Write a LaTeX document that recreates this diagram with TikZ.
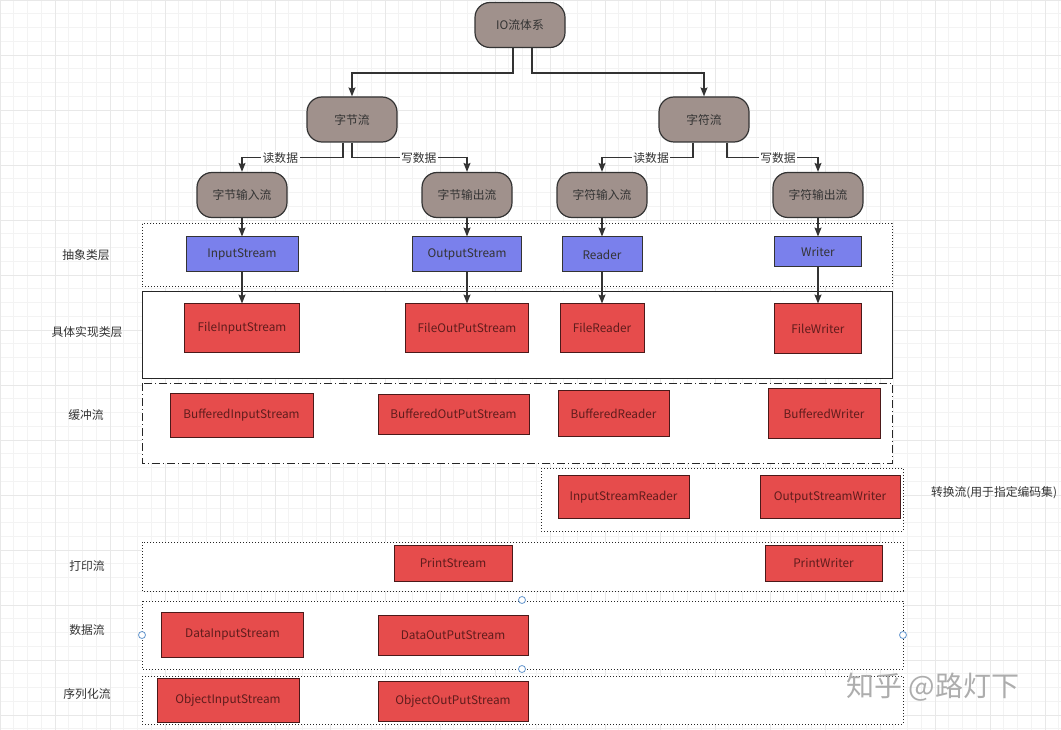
\documentclass[tikz,border=0pt]{standalone}
\usepackage{fontspec}
\setmainfont{Noto Sans CJK SC}
\usetikzlibrary{arrows.meta}

\definecolor{brownfill}{RGB}{160,145,140}
\definecolor{bluefill}{RGB}{122,128,236}
\definecolor{redfill}{RGB}{230,76,76}
\definecolor{redline}{RGB}{75,25,25}
\definecolor{redtext}{RGB}{95,28,28}
\definecolor{linegray}{RGB}{51,51,51}
\definecolor{gridminor}{RGB}{243,243,243}
\definecolor{gridmajor}{RGB}{232,232,232}
\definecolor{handleblue}{RGB}{100,150,205}

\begin{document}
\begin{tikzpicture}[x=1pt,y=-1pt,
  font=\fontsize{11.8}{14}\selectfont,
  flow/.style={draw=linegray,line width=1.2pt,fill=brownfill,rounded corners=15pt,
    minimum width=90pt,minimum height=45pt,inner sep=0pt,text=linegray},
  abs/.style 2 args={draw=linegray,line width=1pt,fill=bluefill,inner sep=0pt,
    minimum width=#1,minimum height=#2,text=linegray},
  impl/.style 2 args={draw=redline,line width=1pt,fill=redfill,inner sep=0pt,
    minimum width=#1,minimum height=#2,text=redtext},
  layer/.style={draw=black!85,fill=white,line width=1pt},
  arr/.style={draw=linegray,line width=1.2pt,-{Stealth[length=9pt,width=7pt,inset=1.5pt]}},
  lab/.style={fill=white,inner sep=1.5pt,text=linegray},
  side/.style={text=linegray},
  handle/.style={circle,draw=handleblue,fill=white,line width=0.8pt,minimum size=7pt,inner sep=0pt}]
\useasboundingbox (0,0) rectangle (1061,730);
% background grid
\draw[gridminor,line width=0.6pt] (0,0) grid[step=13.75pt] (1061,730);
\draw[gridmajor,line width=0.8pt] (0,0) grid[step=55pt] (1061,730);

% layer frames
\draw[layer,dotted] (142,224) rectangle (892,287);
\draw[layer] (142,292) rectangle (892,378);
\draw[layer,dash pattern=on 8pt off 3pt on 1pt off 3pt] (142,383) rectangle (892,463);
\draw[layer,dotted] (541,468) rectangle (903,531);
\draw[layer,dotted] (142,542) rectangle (903,591);
\draw[layer,dotted] (142,601) rectangle (903,669);
\draw[layer,dotted] (142,676) rectangle (903,724);

% tree
\node[flow] (io) at (520,25) {IO流体系};
\node[flow] (zjl) at (352,119.5) {字节流};
\node[flow] (zfl) at (704,119.5) {字符流};
\node[flow] (zjin) at (242,195) {字节输入流};
\node[flow] (zjout) at (467,195) {字节输出流};
\node[flow] (zfin) at (602,195) {字符输入流};
\node[flow] (zfout) at (818,195) {字符输出流};

% abstract classes
\node[abs={112pt}{35pt}] (is) at (242,254.5) {InputStream};
\node[abs={109pt}{35pt}] (os) at (467,254.5) {OutputStream};
\node[abs={80pt}{35pt}] (rd) at (602,254.5) {Reader};
\node[abs={87pt}{30pt}] (wr) at (818,252) {Writer};

% implementations
\node[impl={115pt}{48pt}] (fis) at (242,328) {FileInputStream};
\node[impl={123pt}{48pt}] (fos) at (467,328) {FileOutPutStream};
\node[impl={84pt}{48pt}] (fr) at (602,328) {FileReader};
\node[impl={87pt}{49pt}] (fw) at (818,328.5) {FileWriter};
\node[impl={143pt}{44pt}] (bis) at (241.5,415) {BufferedInputStream};
\node[impl={151pt}{40pt}] (bos) at (453.5,414) {BufferedOutPutStream};
\node[impl={111pt}{46pt}] (br) at (613.5,413.5) {BufferedReader};
\node[impl={112pt}{50pt}] (bw) at (824,413.5) {BufferedWriter};
\node[impl={131pt}{43pt}] (isr) at (623.5,497) {InputStreamReader};
\node[impl={140pt}{43pt}] (osw) at (830,497) {OutputStreamWriter};
\node[impl={118pt}{36pt}] (ps) at (453,563.5) {PrintStream};
\node[impl={117pt}{36pt}] (pw) at (823.5,563.5) {PrintWriter};
\node[impl={142pt}{45pt}] (dis) at (232.5,634.5) {DataInputStream};
\node[impl={150pt}{40pt}] (dos) at (453,635) {DataOutPutStream};
\node[impl={142pt}{44pt}] (ois) at (228,700) {ObjectInputStream};
\node[impl={150pt}{40pt}] (oos) at (453,701) {ObjectOutPutStream};

% row titles
\node[side] (t1) at (86,255) {抽象类层};
\node[side] (t2) at (87,332) {具体实现类层};
\node[side] (t3) at (86,415) {缓冲流};
\node[side] (t4) at (994,492.5) {转换流(用于指定编码集)};
\node[side] (t5) at (87,566) {打印流};
\node[side] (t6) at (87,630) {数据流};
\node[side] (t7) at (87,694) {序列化流};

% selection handles
\node[handle] (h1) at (142,635) {};
\node[handle] (h2) at (903,635) {};
\node[handle] (h3) at (522,600) {};
\node[handle] (h4) at (522,669) {};

% connectors
\draw[arr] ([xshift=-7pt]io.south) -- ++(0,25) -| (zjl.north);
\draw[arr] ([xshift=12pt]io.south) -- ++(0,25) -| (zfl.north);
\draw[arr] ([xshift=-9pt]zjl.south) -- ++(0,15) -| node[lab,pos=0.31] {读数据} (zjin.north);
\draw[arr] (zjl.south) -- ++(0,15) -| node[lab,pos=0.29] {写数据} (zjout.north);
\draw[arr] ([xshift=-11pt]zfl.south) -- ++(0,15) -| node[lab,pos=0.23] {读数据} (zfin.north);
\draw[arr] ([xshift=23pt]zfl.south) -- ++(0,15) -| node[lab,pos=0.28] {写数据} (zfout.north);
\draw[arr] (zjin.south) -- (is.north);
\draw[arr] (zjout.south) -- (os.north);
\draw[arr] (zfin.south) -- (rd.north);
\draw[arr] (zfout.south) -- (wr.north);
\draw[arr] (is.south) -- (fis.north);
\draw[arr] (os.south) -- (fos.north);
\draw[arr] (rd.south) -- (fr.north);
\draw[arr] (wr.south) -- (fw.north);

% watermark
\node[text=black!32,font=\fontsize{28}{28}\selectfont] (mark) at (933,687) {知乎 @路灯下};
\end{tikzpicture}
\end{document}
